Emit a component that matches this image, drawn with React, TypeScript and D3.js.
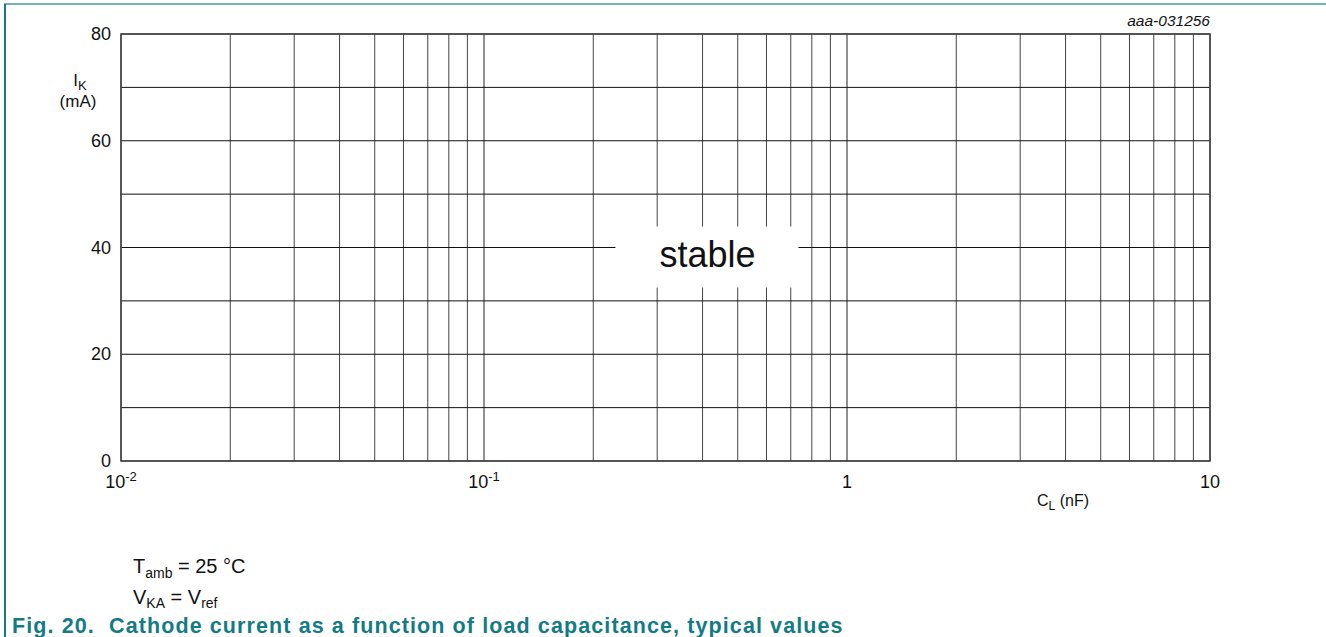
import React from "react";
import * as d3 from "d3";

// axis settings
const xDomain = [0.01, 10];
const yDomain = [0, 80];
const yTickValues = [0, 20, 40, 60, 80];
const yGridValues = [0, 10, 20, 30, 40, 50, 60, 70, 80];
const xDecades = [
  { v: 0.01, base: "10", exp: "-2" },
  { v: 0.1, base: "10", exp: "-1" },
  { v: 1, base: "1", exp: "" },
  { v: 10, base: "10", exp: "" },
];
const regionLabel = "stable";
const regionAt = { x: 0.41, y: 40 };
const figureId = "aaa-031256";
const caption = "Fig. 20.  Cathode current as a function of load capacitance, typical values";

const W = 1326;
const H = 637;
const margin = { left: 121, top: 34, right: W - 1210, bottom: H - 461 };

const App = () => {
  const x = d3.scaleLog().domain(xDomain).range([margin.left, W - margin.right]);
  const y = d3.scaleLinear().domain(yDomain).range([H - margin.bottom, margin.top]);

  // minor log grid: 1..9 per decade
  const xGrid: number[] = [];
  for (let d = 0.01; d < 10; d *= 10) {
    for (let k = 1; k < 10; k++) xGrid.push(+(d * k).toPrecision(3));
  }
  xGrid.push(10);

  const font = "Arial, 'Liberation Sans', sans-serif";
  const teal = "#137b84";
  const sx = x(regionAt.x);
  const sy = y(regionAt.y);

  return (
    <svg
      width={W}
      height={H}
      style={{ display: "block", position: "absolute", left: 0, top: 0, fontFamily: font }}
    >
      <rect width={W} height={H} fill="#fff" />
      {/* frame lines */}
      <line x1={4} x2={W} y1={4} y2={4} stroke="#72b4b7" strokeWidth={2} />
      <line x1={5} x2={5} y1={4} y2={H} stroke={teal} strokeWidth={2} />

      {/* grid */}
      {xGrid.map((v, i) => (
        <line
          key={"vx" + i}
          x1={x(v)}
          x2={x(v)}
          y1={y(80)}
          y2={y(0)}
          stroke={xDecades.some((d) => Math.abs(d.v - v) < 1e-9) ? "#222" : "#444"}
          strokeWidth={1}
        />
      ))}
      {yGridValues.map((v) => (
        <line key={"hy" + v} x1={x(0.01)} x2={x(10)} y1={y(v)} y2={y(v)} stroke="#111" strokeWidth={1} />
      ))}
      <rect
        x={x(0.01)}
        y={y(80)}
        width={x(10) - x(0.01)}
        height={y(0) - y(80)}
        fill="none"
        stroke="#444"
        strokeWidth={1.5}
      />

      {/* stable label */}
      <rect x={sx - 91} y={sy - 21} width={183} height={61} fill="#fff" />
      <text x={sx + 1} y={sy + 19} fontSize={36} textAnchor="middle" fill="#111">
        {regionLabel}
      </text>

      {/* y ticks */}
      {yTickValues.map((v) => (
        <text key={"yt" + v} x={x(0.01) - 10} y={y(v) + 6} fontSize={18} textAnchor="end" fill="#111">
          {v}
        </text>
      ))}
      <text x={80} y={86} fontSize={17} textAnchor="middle" fill="#111">
        I<tspan fontSize={13} dy={4}>K</tspan>
      </text>
      <text x={78} y={107} fontSize={17} textAnchor="middle" fill="#111">
        (mA)
      </text>

      {/* x ticks */}
      {xDecades.map((d) => (
        <text key={"xt" + d.v} x={x(d.v)} y={y(0) + 27} fontSize={18} textAnchor="middle" fill="#111">
          {d.base}
          {d.exp && (
            <tspan fontSize={13} dy={-7}>
              {d.exp}
            </tspan>
          )}
        </text>
      ))}
      <text x={1063} y={y(0) + 45} fontSize={16} textAnchor="middle" fill="#111">
        C<tspan fontSize={12} dy={4}>L</tspan>
        <tspan dy={-4}> (nF)</tspan>
      </text>

      <text x={x(10)} y={26} fontSize={15.5} fontStyle="italic" textAnchor="end" fill="#111">
        {figureId}
      </text>

      {/* conditions */}
      <text x={133} y={573} fontSize={20} fill="#111">
        T<tspan fontSize={14} dy={5}>amb</tspan>
        <tspan dy={-5}> = 25 °C</tspan>
      </text>
      <text x={133} y={604} fontSize={20} fill="#111">
        V<tspan fontSize={14} dy={4}>KA</tspan>
        <tspan dy={-4}> = V</tspan>
        <tspan fontSize={14} dy={4}>ref</tspan>
      </text>

      <text
        x={12}
        y={633}
        fontSize={21.5}
        fontWeight="bold"
        letterSpacing={1.1}
        fill={teal}
        style={{ whiteSpace: "pre" }}
      >
        {caption}
      </text>
    </svg>
  );
};

export default App;
